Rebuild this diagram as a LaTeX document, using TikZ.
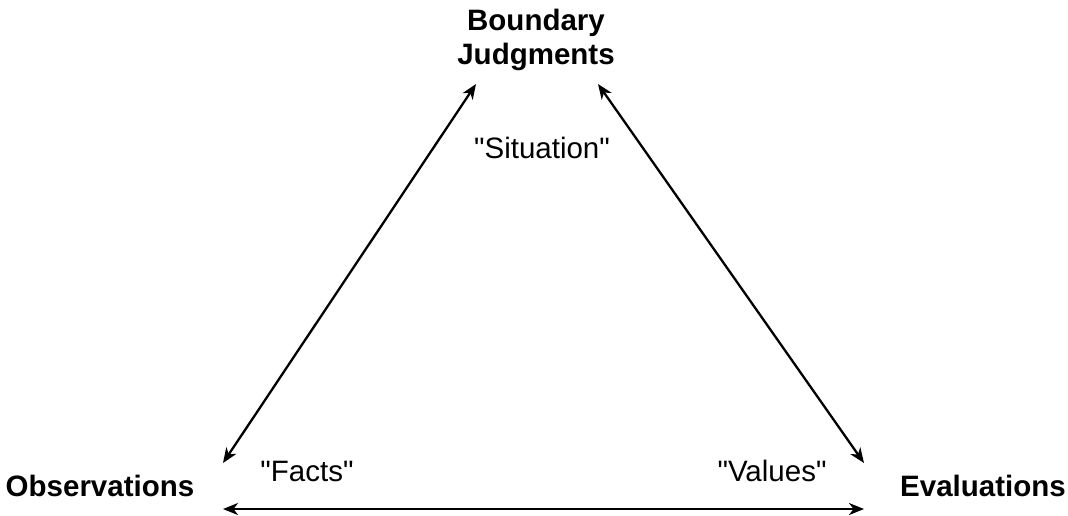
\documentclass[tikz,border=0pt]{standalone}
\usepackage{fontspec}
\setmainfont{Liberation Sans}
\usetikzlibrary{arrows.meta}
\begin{document}
\begin{tikzpicture}[x=1pt,y=-1pt,
  corner/.style={font=\fontsize{29.5}{34}\selectfont\bfseries, align=center, inner sep=0pt},
  tag/.style={font=\fontsize{29.5}{34}\selectfont, inner sep=0pt},
  link/.style={line width=2.3pt, {Stealth[length=15pt,width=12pt,inset=4.5pt]}-{Stealth[length=15pt,width=12pt,inset=4.5pt]}}]
  \useasboundingbox (0,0) rectangle (1068,515);

  % corner concepts
  \node[corner] (bj) at (536,40) {Boundary\\Judgments};
  \node[corner, anchor=base] (obs) at (100,496) {Observations};
  \node[corner, anchor=base] (eval) at (983,496) {Evaluations};

  % edge labels
  \node[tag, anchor=base] (sit) at (542,158) {\textquotedbl Situation\textquotedbl};
  \node[tag, anchor=base] (facts) at (307,481) {\textquotedbl Facts\textquotedbl};
  \node[tag, anchor=base] (vals) at (772,481) {\textquotedbl Values\textquotedbl};

  % arrow end points around the triangle
  \coordinate (bjL) at (476,84);
  \coordinate (bjR) at (598,84);
  \coordinate (obsT) at (223,463);
  \coordinate (obsB) at (223,509);
  \coordinate (evalT) at (864,463);
  \coordinate (evalB) at (864,509);

  \draw[link] (obsT) -- (bjL);
  \draw[link] (bjR) -- (evalT);
  \draw[link] (obsB) -- (evalB);
\end{tikzpicture}
\end{document}
